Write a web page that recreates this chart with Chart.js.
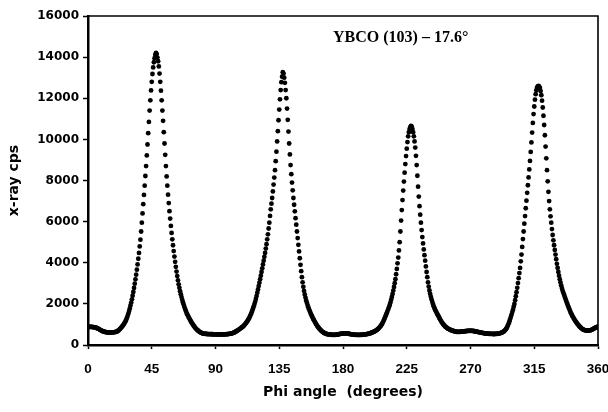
<!DOCTYPE html>
<html><head><meta charset="utf-8">
<script src="https://cdn.jsdelivr.net/npm/chart.js@4"></script>
<style>html,body{margin:0;padding:0;background:#fff}</style>
</head><body>
<canvas id="c" width="608" height="412"></canvas>
<script>
const chartTitle = "YBCO (103) – 17.6°";
const xAxisTitle = "Phi angle  (degrees)";
const yAxisTitle = "x-ray cps";
const xTicks = [0, 45, 90, 135, 180, 225, 270, 315, 360];
const yTicks = [0, 2000, 4000, 6000, 8000, 10000, 12000, 14000, 16000];
const phiStart = 0;
const phiStep = 0.5;
const counts = [
870,875,880,880,880,878,875,870,865,858,850,840,830,815,800,780,760,740,720,700,
680,667,655,645,635,627,620,616,612,610,608,608,608,610,612,615,618,623,628,634,
640,658,680,708,740,773,810,848,890,933,980,1033,1090,1157,1230,1320,1420,1530,1650,1780,
1920,2065,2220,2395,2580,2775,2980,3195,3420,3665,3920,4195,4480,4795,5120,5520,5950,6400,6850,7300,
7750,8220,8700,9220,9750,10300,10850,11400,11900,12380,12800,13180,13500,13750,13950,14120,14200,14150,13980,13800,
13550,13200,12800,12370,11900,11400,10900,10350,9800,9250,8700,8200,7750,7310,6900,6510,6150,5790,5450,5140,
4850,4570,4300,4045,3800,3570,3350,3145,2950,2780,2620,2470,2330,2200,2080,1965,1860,1760,1670,1580,
1500,1430,1360,1295,1230,1170,1110,1055,1000,950,900,855,810,775,740,710,680,655,630,610,
590,577,565,557,550,545,540,537,535,532,530,529,528,526,525,523,522,521,520,519,
518,516,515,514,514,513,513,513,514,514,515,516,517,518,520,522,525,528,532,537,
542,549,556,565,575,587,600,620,640,660,680,702,725,750,775,800,825,850,875,905,
940,980,1020,1065,1110,1165,1220,1280,1340,1420,1500,1590,1680,1780,1880,1990,2100,2240,2380,2540,
2700,2865,3030,3200,3370,3550,3730,3915,4100,4290,4480,4690,4900,5140,5380,5665,5950,6275,6600,6875,
7150,7470,7800,8140,8500,8940,9400,9900,10400,10930,11450,11950,12400,12780,13050,13270,13200,13000,12750,12400,
12000,11500,10950,10380,9800,9270,8750,8310,7900,7520,7150,6820,6500,6170,5850,5520,5200,4870,4550,4220,
3900,3590,3300,3050,2830,2630,2460,2305,2170,2050,1940,1835,1740,1650,1570,1488,1410,1338,1270,1205,
1140,1080,1020,965,910,865,820,780,740,705,670,642,615,595,575,560,545,535,525,520,
515,510,505,501,498,496,495,495,495,497,500,505,510,516,522,530,538,545,552,557,
562,565,566,566,565,562,558,552,546,539,532,525,518,513,508,504,500,497,495,493,
492,491,490,491,492,494,496,499,502,506,510,515,520,526,532,539,546,555,565,577,
595,607,620,635,650,670,690,715,740,770,800,835,870,915,960,1020,1080,1150,1230,1315,
1400,1485,1570,1660,1750,1850,1950,2070,2200,2340,2480,2645,2820,3005,3200,3440,3700,3970,4250,4600,
5000,5520,6050,6560,7050,7510,7950,8380,8800,9190,9550,9870,10150,10350,10500,10600,10650,10620,10500,10350,
10150,9900,9600,9200,8750,8230,7700,7220,6750,6340,5950,5590,5250,4940,4650,4370,4100,3820,3550,3300,
3050,2840,2650,2490,2350,2220,2100,1990,1890,1800,1720,1650,1580,1515,1450,1385,1320,1255,1190,1135,
1080,1035,990,950,910,880,850,825,800,780,760,745,730,715,700,690,680,670,660,652,
645,642,640,640,640,642,645,648,652,656,660,664,668,672,676,680,684,687,690,691,
692,690,688,684,680,674,668,661,654,646,638,630,622,614,606,599,592,586,580,575,
570,565,560,556,553,550,547,544,542,540,538,537,536,536,536,538,540,543,547,552,
558,566,575,587,600,617,635,660,690,727,770,825,890,970,1060,1160,1260,1370,1480,1600,
1720,1860,2000,2180,2370,2570,2780,3010,3250,3500,3750,4070,4400,4770,5150,5520,5900,6270,6650,7020,
7400,7770,8150,8540,8950,9390,9850,10330,10800,11230,11600,11930,12200,12390,12520,12580,12600,12570,12500,12350,
12150,11880,11550,11150,10700,10200,9650,9080,8500,7960,7450,7000,6600,6260,5950,5640,5350,5090,4850,4620,
4400,4170,3950,3750,3550,3370,3200,3050,2900,2770,2650,2550,2450,2350,2250,2155,2060,1970,1880,1790,
1700,1620,1540,1470,1400,1340,1280,1225,1170,1120,1070,1025,980,940,900,865,830,800,775,755,
735,725,715,710,705,703,702,705,708,716,725,740,755,775,795,815,835,852,870,883,895
];

const points = counts.map((c, i) => ({ x: phiStart + i * phiStep, y: c }));

const framePlugin = {
  id: 'frame',
  afterDatasetsDraw(chart) {
    const { ctx, chartArea: a } = chart;
    ctx.save();
    ctx.strokeStyle = '#000';
    ctx.lineWidth = 1.6;
    ctx.beginPath();
    ctx.moveTo(a.left, a.top);
    ctx.lineTo(a.right, a.top);
    ctx.lineTo(a.right, a.bottom);
    ctx.stroke();
    ctx.restore();
  }
};

const labelPlugin = {
  id: 'insideTitle',
  afterDraw(chart) {
    const { ctx, chartArea: a } = chart;
    ctx.save();
    ctx.fillStyle = '#000';
    ctx.font = 'bold 16px "Liberation Serif", "Times New Roman", serif';
    ctx.textAlign = 'left';
    ctx.textBaseline = 'middle';
    ctx.fillText(chartTitle, a.left + 245, a.top + 22);
    ctx.restore();
  }
};

new Chart(document.getElementById('c'), {
  type: 'scatter',
  data: {
    datasets: [{
      data: points,
      backgroundColor: '#000',
      borderColor: '#000',
      borderWidth: 0,
      pointRadius: 2.4,
      pointHoverRadius: 2.4
    }]
  },
  options: {
    responsive: false,
    devicePixelRatio: 1,
    animation: false,
    events: [],
    layout: { padding: { left: 0, right: 10, top: 16, bottom: 0 } },
    plugins: { legend: { display: false }, tooltip: { enabled: false }, title: { display: false } },
    scales: {
      x: {
        type: 'linear',
        position: 'bottom',
        min: 0, max: 360,
        afterBuildTicks: s => { s.ticks = xTicks.map(v => ({ value: v })); },
        afterFit: s => { s.paddingRight = 0; s.paddingLeft = 0; s.height = 67; },
        grid: { drawOnChartArea: false, drawTicks: true, tickLength: 4, tickColor: '#000', tickWidth: 1.5 },
        border: { display: true, color: '#000', width: 2.5 },
        ticks: {
          autoSkip: false, maxRotation: 0, padding: 12, color: '#000',
          callback: v => String(v),
          font: { family: '"Liberation Sans", Arial, sans-serif', weight: 'bold', size: 13.5 }
        },
        title: {
          display: true, text: xAxisTitle, color: '#000',
          font: { family: '"DejaVu Sans", sans-serif', weight: 'bold', size: 14 },
          padding: { top: 0, bottom: 11 }
        }
      },
      y: {
        type: 'linear',
        min: 0, max: 16000,
        afterBuildTicks: s => { s.ticks = yTicks.map(v => ({ value: v })); },
        afterFit: s => { s.width = 88; },
        grid: { drawOnChartArea: false, drawTicks: true, tickLength: 5, tickColor: '#000', tickWidth: 1.5 },
        border: { display: true, color: '#000', width: 2.5 },
        ticks: {
          padding: 4, color: '#000',
          callback: v => String(v),
          font: { family: '"DejaVu Sans", sans-serif', weight: 'bold', size: 12 }
        },
        title: {
          display: true, text: yAxisTitle, color: '#000',
          font: { family: '"DejaVu Sans", sans-serif', weight: 'bold', size: 14 },
          padding: { top: 6, bottom: 0 }
        }
      }
    }
  },
  plugins: [framePlugin, labelPlugin]
});
</script>
</body></html>
